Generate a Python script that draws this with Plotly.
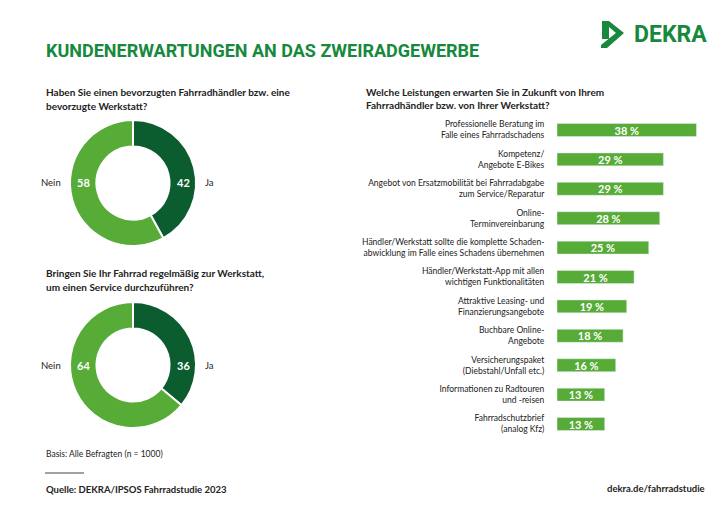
import plotly.graph_objects as go

W, H = 728, 513

# ---------------- data ----------------
pie_labels = ["Ja", "Nein"]
pie1_values = [42, 58]
pie2_values = [36, 64]

bar_categories = [
    "Professionelle Beratung im<br>Falle eines Fahrradschadens",
    "Kompetenz/<br>Angebote E-Bikes",
    "Angebot von Ersatzmobilität bei Fahrradabgabe<br>zum Service/Reparatur",
    "Online-<br>Terminvereinbarung",
    "Händler/Werkstatt sollte die komplette Schaden-<br>abwicklung im Falle eines Schadens übernehmen",
    "Händler/Werkstatt-App mit allen<br>wichtigen Funktionalitäten",
    "Attraktive Leasing- und<br>Finanzierungsangebote",
    "Buchbare Online-<br>Angebote",
    "Versicherungspaket<br>(Diebstahl/Unfall etc.)",
    "Informationen zu Radtouren<br>und -reisen",
    "Fahrradschutzbrief<br>(analog Kfz)",
]
bar_values = [38, 29, 29, 28, 25, 21, 19, 18, 16, 13, 13]

# ---------------- style ----------------
GREEN_TITLE = "#17893c"
GREEN_LIGHT = "#57ab37"
GREEN_DARK = "#0b5c2e"
TEXT = "#222222"
FONT = "Lato"


def px(x):
    return x / W


def py(y):
    return 1 - y / H


fig = go.Figure()

# donuts
for vals, (top, bottom) in [(pie1_values, (120, 246)), (pie2_values, (302, 428))]:
    fig.add_trace(go.Pie(
        labels=pie_labels, values=vals, hole=0.58, sort=False,
        direction="clockwise", rotation=0,
        marker=dict(colors=[GREEN_DARK, GREEN_LIGHT], line=dict(color="white", width=2)),
        textinfo="none", hoverinfo="label+value", showlegend=False,
        domain=dict(x=[px(70), px(196)], y=[py(bottom), py(top)]),
    ))

# bars
fig.add_trace(go.Bar(
    x=bar_values, y=bar_categories, orientation="h",
    marker=dict(color=GREEN_LIGHT), width=0.44,
    text=[f"{v} %" for v in bar_values], textposition="inside",
    insidetextanchor="middle",
    textfont=dict(color="white", size=11, family=FONT, weight="bold"),
    showlegend=False, hoverinfo="x+y",
))

bar_top, bar_bottom = 115.3, 438.7
fig.update_layout(
    width=W, height=H, margin=dict(l=0, r=0, t=0, b=0),
    paper_bgcolor="white", plot_bgcolor="white",
    font=dict(family=FONT, color=TEXT),
    uniformtext=dict(minsize=11, mode="show"),
    xaxis=dict(domain=[px(557), px(714)], range=[0, (714 - 557) / 3.67],
               visible=False, fixedrange=True),
    yaxis=dict(domain=[py(bar_bottom), py(bar_top)], categoryorder="array",
               categoryarray=bar_categories, autorange="reversed",
               showgrid=False, zeroline=False, showline=False,
               ticks="outside", ticklen=10, tickcolor="rgba(0,0,0,0)",
               tickfont=dict(size=8.5, family=FONT, color=TEXT)),
)

ann = []


def text(x, y, s, size=10, color=TEXT, weight="normal", xanchor="left", family=FONT):
    ann.append(dict(x=px(x), y=py(y), xref="paper", yref="paper", text=s,
                    showarrow=False, xanchor=xanchor, yanchor="middle",
                    align=xanchor,
                    font=dict(size=size, color=color, family=family, weight=weight)))


text(44, 51, "KUNDENERWARTUNGEN AN DAS ZWEIRADGEWERBE", size=18, color=GREEN_TITLE,
     weight="bold", family="Roboto")
text(632, 35, "DEKRA", size=23, color=GREEN_TITLE, weight="bold", family="Roboto")

text(44, 92, "Haben Sie einen bevorzugten Fahrradhändler bzw. eine", size=10, weight="bold")
text(44, 106, "bevorzugte Werkstatt?", size=10, weight="bold")
text(44, 273, "Bringen Sie Ihr Fahrrad regelmäßig zur Werkstatt,", size=10, weight="bold")
text(44, 287, "um einen Service durchzuführen?", size=10, weight="bold")
text(364, 92, "Welche Leistungen erwarten Sie in Zukunft von Ihrem", size=10, weight="bold")
text(364, 105, "Fahrradhändler bzw. von Ihrer Werkstatt?", size=10, weight="bold")

# donut labels from data
for vals, cy in [(pie1_values, 183), (pie2_values, 365)]:
    text(183, cy, str(vals[0]), size=11, color="white", weight="bold", xanchor="center")
    text(83, cy, str(vals[1]), size=11, color="white", weight="bold", xanchor="center")
    text(203, cy, pie_labels[0], size=9.5)
    text(63, cy, pie_labels[1], size=9.5, xanchor="right")

text(44, 454, "Basis: Alle Befragten (n = 1000)", size=8.5)
text(44, 489, "Quelle: DEKRA/IPSOS Fahrradstudie 2023", size=9.5, weight="bold")
text(707, 488, "dekra.de/fahrradstudie", size=9.5, weight="bold", xanchor="right")

fig.update_layout(annotations=ann)

# footer rule and logo mark
logo_pts = [(602, 21), (609, 21), (624, 33), (607, 48), (601, 48), (601, 45),
            (616, 33), (609, 27), (609, 39), (602, 39)]
path = "M" + " L".join(f"{px(x):.5f},{py(y):.5f}" for x, y in logo_pts) + " Z"
fig.update_layout(shapes=[
    dict(type="line", xref="paper", yref="paper", x0=px(45), x1=px(84),
         y0=py(473), y1=py(473), line=dict(color="#444", width=1)),
    dict(type="path", xref="paper", yref="paper", path=path,
         fillcolor=GREEN_TITLE, line=dict(width=0)),
])

fig.write_html("out.html", config={"displayModeBar": False},
               post_script="document.body.style.margin='0';")
